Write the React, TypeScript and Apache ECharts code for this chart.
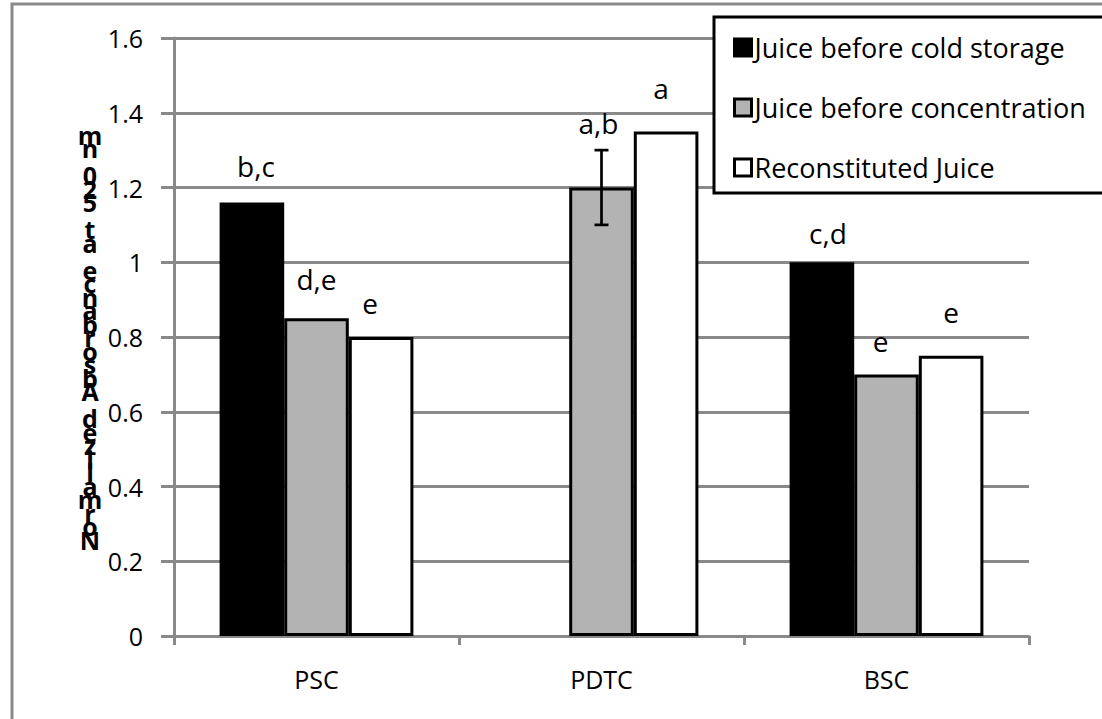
import React, { useEffect, useRef } from "react";
import * as echarts from "echarts";

const categories = ["PSC", "PDTC", "BSC"];
const seriesNames = ["Juice before cold storage", "Juice before concentration", "Reconstituted Juice"];
const coldStorage: (number | null)[] = [1.16, null, 1.0];
const beforeConc: number[] = [0.85, 1.2, 0.7];
const reconstituted: number[] = [0.8, 1.35, 0.75];
const beforeConcError: number[] = [0, 0.1, 0];
const coldLetters = ["b,c", "", "c,d"];
const concLetters = ["d,e", "a,b", "e"];
const reconLetters = ["e", "a", "e"];
const yTitle = "Normalized Absorbance at 520 nm";

// label placement tweaks (layout only)
const coldShift = [[4, -22], [0, 0], [6, -15]];
const concShift = [[0, -25], [-3, -51], [-6, -19]];
const reconShift = [[-11, -20], [-5, -29], [0, -30]];

const FONT = "'Open Sans', sans-serif";
const GRID = "#898989";

function items(vals: (number | null)[], letters: string[], shifts: number[][]) {
  return vals.map((v, i) => ({
    value: v === null ? "-" : v,
    label: {
      show: !!letters[i],
      formatter: letters[i],
      offset: shifts[i],
    },
  }));
}

export default function App() {
  const ref = useRef<HTMLDivElement>(null);
  useEffect(() => {
    if (!ref.current) return;
    const chart = echarts.init(ref.current, undefined, { renderer: "svg" });
    const labelStyle = {
      position: "top",
      distance: 0,
      fontSize: 28,
      fontFamily: FONT,
      color: "#000",
    };
    const barCommon = {
      type: "bar",
      barGap: "0%",
      barCategoryGap: "32%",
      label: labelStyle,
    };
    const errData = beforeConc
      .map((v, i) => [i, v - beforeConcError[i], v + beforeConcError[i], beforeConcError[i]])
      .filter((d) => d[3] > 0);
    const option: any = {
      animation: false,
      backgroundColor: "#fff",
      textStyle: { fontFamily: FONT },
      grid: { left: 174, right: 73, top: 38, bottom: 83, containLabel: false },
      graphic: [
        {
          type: "rect",
          z: -10,
          silent: true,
          shape: { x: 12, y: 4, width: 1200, height: 800 },
          style: { fill: "none", stroke: GRID, lineWidth: 3 },
        },
        {
          type: "text",
          x: 90,
          y: 128,
          silent: true,
          style: {
            text: yTitle.split("").reverse().join("\n"),
            fontSize: 25,
            fontWeight: "bold",
            fontFamily: FONT,
            lineHeight: 13.5,
            align: "center",
            verticalAlign: "top",
            fill: "#000",
          },
        },
      ],
      legend: {
        data: seriesNames,
        orient: "vertical",
        left: 714,
        top: 17,
        padding: [17, 40, 12, 19],
        itemGap: 33,
        itemWidth: 17,
        itemHeight: 17,
        borderColor: "#000",
        borderWidth: 3,
        backgroundColor: "#fff",
        icon: "rect",
        itemStyle: { borderColor: "#000", borderWidth: 3 },
        textStyle: { fontSize: 27, fontFamily: FONT, color: "#000", padding: [0, 0, 0, -2] },
        selectedMode: false,
      },
      xAxis: {
        type: "category",
        data: categories,
        axisLine: { lineStyle: { color: GRID, width: 3 } },
        axisTick: { show: true, length: 9, lineStyle: { color: GRID, width: 3 } },
        axisLabel: { fontSize: 25, fontFamily: FONT, color: "#000", margin: 30 },
      },
      yAxis: {
        type: "value",
        min: 0,
        max: 1.6,
        interval: 0.2,
        axisLine: { show: true, lineStyle: { color: GRID, width: 3 } },
        axisTick: { show: true, length: 13, lineStyle: { color: GRID, width: 3 } },
        splitLine: { show: true, lineStyle: { color: GRID, width: 3 } },
        axisLabel: { fontSize: 25, fontFamily: FONT, color: "#000", margin: 31 },
      },
      series: [
        {
          ...barCommon,
          name: seriesNames[0],
          itemStyle: { color: "#000", borderColor: "#000", borderWidth: 3 },
          data: items(coldStorage, coldLetters, coldShift),
        },
        {
          ...barCommon,
          name: seriesNames[1],
          itemStyle: { color: "#b3b3b3", borderColor: "#000", borderWidth: 3 },
          data: items(beforeConc, concLetters, concShift),
        },
        {
          ...barCommon,
          name: seriesNames[2],
          itemStyle: { color: "#fff", borderColor: "#000", borderWidth: 3 },
          data: items(reconstituted, reconLetters, reconShift),
        },
        {
          type: "custom",
          name: "error",
          z: 10,
          silent: true,
          data: errData,
          encode: { x: 0, y: [1, 2] },
          renderItem: (params: any, api: any) => {
            const lo = api.coord([api.value(0), api.value(1)]);
            const hi = api.coord([api.value(0), api.value(2)]);
            const half = 7;
            const st = { stroke: "#000", lineWidth: 2.7 };
            return {
              type: "group",
              children: [
                { type: "line", shape: { x1: lo[0], y1: lo[1], x2: hi[0], y2: hi[1] }, style: st },
                { type: "line", shape: { x1: lo[0] - half, y1: lo[1], x2: lo[0] + half, y2: lo[1] }, style: st },
                { type: "line", shape: { x1: hi[0] - half, y1: hi[1], x2: hi[0] + half, y2: hi[1] }, style: st },
              ],
            };
          },
        },
      ],
    };
    chart.setOption(option);
    return () => chart.dispose();
  }, []);
  return (
    <div
      ref={ref}
      style={{ position: "absolute", left: 0, top: 0, width: 1102, height: 719, background: "#fff" }}
    />
  );
}
